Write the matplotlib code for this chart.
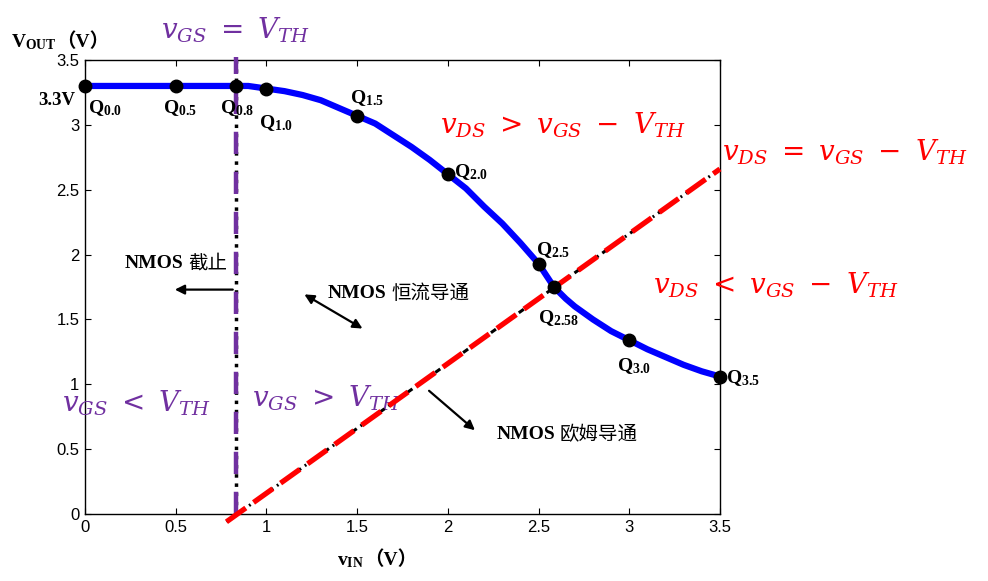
import matplotlib
matplotlib.use('Agg')
import matplotlib.pyplot as plt

plt.rcParams['mathtext.fontset'] = 'custom'
plt.rcParams['mathtext.rm'] = 'Liberation Serif'
plt.rcParams['mathtext.it'] = 'Liberation Serif:italic'
plt.rcParams['mathtext.bf'] = 'Liberation Serif:bold'

# transfer curve
vin = [0, 0.5, 0.83, 0.9, 1.0, 1.1, 1.2, 1.3, 1.4, 1.5, 1.6, 1.7, 1.8, 1.9, 2.0,
       2.1, 2.2, 2.3, 2.4, 2.5, 2.585, 2.65, 2.7, 2.8, 2.9, 3.0, 3.1, 3.2, 3.3, 3.4, 3.5]
vout = [3.3, 3.3, 3.3, 3.3, 3.28, 3.26, 3.23, 3.19, 3.13, 3.07, 3.01, 2.92, 2.83, 2.73, 2.62,
        2.51, 2.37, 2.24, 2.09, 1.93, 1.75, 1.66, 1.60, 1.50, 1.41, 1.34, 1.27, 1.21, 1.15, 1.10, 1.06]

# Q points
q_x = [0, 0.5, 0.83, 1.0, 1.5, 2.0, 2.5, 2.585, 3.0, 3.5]
q_y = [3.3, 3.3, 3.3, 3.28, 3.07, 2.62, 1.93, 1.75, 1.34, 1.06]
q_names = ['0.0', '0.5', '0.8', '1.0', '1.5', '2.0', '2.5', '2.58', '3.0', '3.5']

# boundary lines
vth = 0.83
sat_x = [0.78, 3.5]
sat_y = [-0.06, 2.66]

xticks = [0, 0.5, 1, 1.5, 2, 2.5, 3, 3.5]
yticks = [0, 0.5, 1, 1.5, 2, 2.5, 3, 3.5]

purple = '#7030A0'
red = '#FF0000'

fig = plt.figure(figsize=(9.88, 5.81), dpi=100)
ax = fig.add_axes([0.086, 0.1153, 0.6427, 0.7814])
ax.set_xlim(0, 3.5)
ax.set_ylim(0, 3.5)
ax.set_xticks(xticks)
ax.set_yticks(yticks)
ax.set_xticklabels(['%g' % t for t in xticks], family='Liberation Sans', fontsize=12)
ax.set_yticklabels(['%g' % t for t in yticks], family='Liberation Sans', fontsize=12)
ax.tick_params(direction='in', top=True, right=True, length=4, width=0.8, pad=4)
for s in ax.spines.values():
    s.set_linewidth(1.0)

# curve
ax.plot(vin, vout, color='#0000FF', lw=4.5, zorder=3, solid_capstyle='butt')

# vGS = VTH line
ax.plot([vth, vth], [0, 3.52], color='black', lw=2.5, ls=':', zorder=4, clip_on=False)
ax.plot([vth, vth], [0, 3.52], color=purple, lw=3.2, dashes=(5, 4), zorder=4.5, clip_on=False)

# vDS = vGS - VTH line
ax.plot(sat_x, sat_y, color='black', lw=2.2, ls=(0, (2, 1.5, 0.6, 1.5)), zorder=4, clip_on=False)
ax.plot(sat_x, sat_y, color=red, lw=3.8, dashes=(4.5, 1.8), zorder=4.5, clip_on=False)

# markers + labels
ax.plot(q_x, q_y, 'o', color='black', ms=9, zorder=6, clip_on=False)
offs = [(3, -22), (-13, -22), (-16, -22), (-7, -34), (-7, 18), (6, 2),
        (-3, 14), (-16, -31), (-12, -26), (6, -2)]
for x, y, n, o in zip(q_x, q_y, q_names, offs):
    ax.annotate(r'$\mathbf{Q}_{\mathbf{%s}}$' % n, (x, y), xytext=o,
                textcoords='offset pixels', ha='left', va='center', fontsize=14,
                zorder=7, annotation_clip=False)

# axis labels
t = ax.text(-0.41, 3.64, r'$\mathbf{V_{OUT}}$', fontsize=14, ha='left', va='center', clip_on=False)
ax.annotate('（V）', (1, 0.5), xycoords=t, ha='left', va='center', fontsize=14,
            family=['Liberation Serif', 'Noto Sans CJK SC'], weight='bold')
t = ax.text(1.39, -0.355, r'$\mathbf{v_{IN}}$', fontsize=14, ha='left', va='center', clip_on=False)
ax.annotate('（V）', (1, 0.5), xycoords=t, ha='left', va='center', fontsize=14,
            family=['Liberation Serif', 'Noto Sans CJK SC'], weight='bold')
ax.text(-0.055, 3.19, '3.3V', fontsize=13.5, weight='bold', family='Liberation Serif',
        ha='right', va='center', clip_on=False)

# region notes
def nmos(x, y, cn):
    t = ax.text(x, y, 'NMOS', fontsize=14, weight='bold', family='Liberation Serif',
                ha='left', va='center')
    ax.annotate(cn, (1, 0.5), xycoords=t, xytext=(3, 0), textcoords='offset points',
                ha='left', va='center', fontsize=14, family='Noto Sans CJK SC')

nmos(0.22, 1.935, '截止')
nmos(1.34, 1.70, '恒流导通')
nmos(2.27, 0.61, '欧姆导通')

ap = dict(arrowstyle='-|>', color='black', lw=1.6, mutation_scale=14)
ax.annotate('', (0.48, 1.73), xytext=(0.83, 1.73), arrowprops=ap)
ax.annotate('', (1.196, 1.704), xytext=(1.543, 1.419),
            arrowprops=dict(arrowstyle='<|-|>', color='black', lw=1.6, mutation_scale=14))
ax.annotate('', (2.161, 0.632), xytext=(1.885, 0.964), arrowprops=ap)

# formulas
big = dict(fontsize=20, math_fontfamily='dejavuserif', clip_on=False, va='center')
ax.text(vth, 3.73, r'$v_{GS}\ =\ V_{TH}$', color=purple, ha='center', **big)
ax.text(-0.127, 0.856, r'$v_{GS}\ <\ V_{TH}$', color=purple, ha='left', **big)
ax.text(0.92, 0.894, r'$v_{GS}\ >\ V_{TH}$', color=purple, ha='left', **big)
ax.text(1.957, 3.0, r'$v_{DS}\ >\ v_{GS}\ -\ V_{TH}$', color=red, ha='left', **big)
ax.text(3.51, 2.79, r'$v_{DS}\ =\ v_{GS}\ -\ V_{TH}$', color=red, ha='left', **big)
ax.text(3.13, 1.766, r'$v_{DS}\ <\ v_{GS}\ -\ V_{TH}$', color=red, ha='left', **big)

plt.savefig('out.png', dpi=100)
